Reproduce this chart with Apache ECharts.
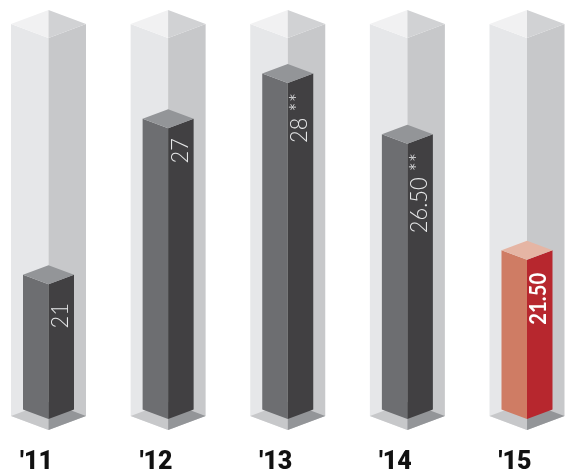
<!DOCTYPE html>
<html><head><meta charset="utf-8">
<style>html,body{margin:0;padding:0;background:#fff}#c{width:571px;height:472px}</style>
<script src="https://cdn.jsdelivr.net/npm/echarts@6/dist/echarts.min.js"></script></head>
<body><div id="c"></div>
<script>
const years = ["'11","'12","'13","'14","'15"];
const valueLabels = ["21","27","28 **","26.50 **","21.50"];
// Fill level, as percent of the full column height
const fillLevels = [37.2,77.0,88.5,73.0,43.4];
const columnFull = [100,100,100,100,100];

const Y_MAX = 100, BAR_BASE = 2.8;
const GREY = {left:'#6d6e71',right:'#414042',top:'#939598',text:'#e6e7e8'};
const RED = {left:'#cf7c64',right:'#b7272e',top:'#e5b5a4',text:'#ffffff'};
const labelDrop = [19,10,10,9,13];

function poly(points,fill,z2){return {type:'polygon',shape:{points},style:{fill},z2};}

function renderColumn(params,api){
  const i = api.value(0);
  const [cx,yTop] = api.coord([i,api.value(1)]);
  const [,yBot] = api.coord([i,0]);
  const w = 37.5, r = 14;
  return {type:'group',children:[
    poly([[cx-w,yTop-r],[cx,yTop],[cx,yBot],[cx-w,yBot-r]],'#e6e7e9',1),
    poly([[cx+w,yTop-r],[cx,yTop],[cx,yBot],[cx+w,yBot-r]],'#c7c8ca',1),
    poly([[cx-w,yTop-r],[cx,yTop-2*r],[cx,yTop]],'#f1f1f2',2),
    poly([[cx+w,yTop-r],[cx,yTop-2*r],[cx,yTop]],'#d1d2d4',2),
    poly([[cx-w,yBot-r],[cx,yBot],[cx,yBot-2*r]],'#c7c8ca',2),
    poly([[cx+w,yBot-r],[cx,yBot],[cx,yBot-2*r]],'#939598',2)
  ]};
}
function renderBar(params,api){
  const i = api.value(0);
  const [cx,yTop] = api.coord([i,api.value(1)]);
  const [,yBot] = api.coord([i,BAR_BASE]);
  const w = 25.5, r = 9.5;
  const c = i===4?RED:GREY;
  const bold = i===4;
  return {type:'group',children:[
    poly([[cx-w,yTop-r],[cx,yTop],[cx,yBot],[cx-w,yBot-r]],c.left,1),
    poly([[cx+w,yTop-r],[cx,yTop],[cx,yBot],[cx+w,yBot-r]],c.right,1),
    poly([[cx-w,yTop-r],[cx,yTop-2*r],[cx+w,yTop-r],[cx,yTop]],c.top,2),
    {type:'text',x:cx+12,y:yTop+labelDrop[i],rotation:Math.PI/2,scaleX:bold?0.88:0.95,z2:3,
     style:{text:valueLabels[i],fill:c.text,fontFamily:'Lato',fontWeight:bold?700:300,fontSize:23,
       align:'right',verticalAlign:'middle'}}
  ]};
}
const chart = echarts.init(document.getElementById('c'),null,{renderer:'canvas'});
chart.setOption({
  animation:false,
  grid:{left:48.5,right:44,top:38,bottom:42,outerBoundsMode:'none'},
  xAxis:{type:'category',data:years,boundaryGap:false,
    axisLine:{show:false},axisTick:{show:false},splitLine:{show:false},
    axisLabel:{interval:0,margin:20,color:'#111',fontFamily:'Roboto',fontWeight:900,fontSize:25,padding:[0,24,0,0],hideOverlap:false}},
  yAxis:{type:'value',min:0,max:Y_MAX,show:false},
  series:[
    {type:'custom',name:'Column',data:columnFull.map((v,i)=>[i,v]),encode:{x:0,y:1},renderItem:renderColumn,z:1,clip:false},
    {type:'custom',name:'Value',data:fillLevels.map((v,i)=>[i,v]),encode:{x:0,y:1},renderItem:renderBar,z:2,clip:false}
  ]
});
</script></body></html>
